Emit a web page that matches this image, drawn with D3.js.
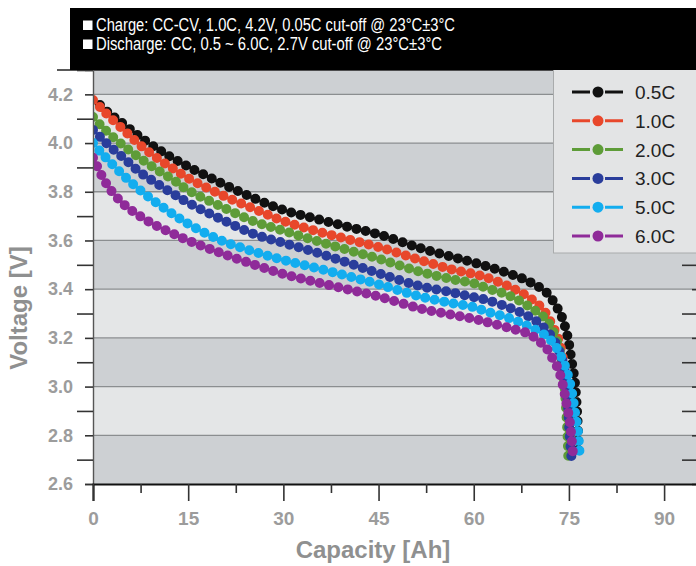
<!DOCTYPE html>
<meta charset="utf-8">
<style>
  body { margin: 0; background: #fff; }
  svg { display: block; }
  .tick text { font-family: "Liberation Sans", Arial, sans-serif; font-weight: bold; fill: #9c9c9c; }
  .axis-title { font-family: "Liberation Sans", Arial, sans-serif; font-weight: bold; fill: #8f9090; }
  .head { font-family: "Liberation Sans Narrow", "Liberation Sans", Arial, sans-serif; fill: #fff; font-size: 17.5px; }
  .legend-label { font-family: "Liberation Sans", Arial, sans-serif; font-size: 19px; fill: #222; }
</style>
<body>
<div id="chart"></div>
<script src="https://cdn.jsdelivr.net/npm/d3@7"></script>
<script>
// discharge curves, [capacity Ah, voltage V]
const rate05 = [[1.1,4.156],[2.7,4.118],[4.3,4.088],[7.4,4.025],[10.8,3.965],[12.6,3.937],[15,3.903],[19.2,3.848],[25.5,3.772],[30,3.725],[35,3.69],[40,3.657],[45,3.625],[51.5,3.569],[56.7,3.532],[60,3.509],[63,3.486],[66,3.46],[68.8,3.43],[71.5,3.385],[73,3.33],[73.9,3.285],[74.8,3.204],[75.4,3.109],[75.9,3.027],[76.2,2.933],[76.4,2.834],[76.5,2.715]];
const rate10 = [[0,4.177],[1.4,4.14],[2.7,4.105],[5,4.05],[7.4,3.992],[10,3.94],[12.6,3.895],[15,3.856],[20,3.79],[25.5,3.728],[30,3.68],[35,3.64],[40,3.606],[45,3.573],[51.5,3.52],[56.7,3.48],[60,3.462],[62,3.448],[65.7,3.409],[68.8,3.364],[70.9,3.318],[72.4,3.25],[73.4,3.19],[74,3.122],[74.6,3.027],[74.9,2.933],[75.1,2.834],[75.4,2.71]];
const rate20 = [[0,4.107],[1.3,4.07],[2.7,4.035],[5,3.985],[7.4,3.938],[10,3.892],[12.6,3.85],[15,3.806],[20,3.742],[25.5,3.677],[30,3.64],[35,3.6],[40,3.562],[45,3.525],[51.5,3.472],[56.7,3.44],[60,3.424],[62,3.405],[65.7,3.372],[68.8,3.327],[71.4,3.275],[72.8,3.21],[73.8,3.12],[74.3,3.0],[74.6,2.89],[74.8,2.79],[74.9,2.71]];
const rate30 = [[0,4.054],[1.3,4.02],[2.7,3.985],[5,3.935],[7.4,3.88],[10,3.835],[12.6,3.792],[15,3.755],[20,3.69],[25.5,3.625],[30,3.59],[35,3.552],[40,3.51],[45,3.465],[51.5,3.413],[56.7,3.386],[60,3.367],[62,3.356],[65.7,3.323],[68.8,3.286],[70.9,3.246],[72.8,3.184],[74.1,3.096],[74.6,3.0],[74.9,2.904],[75.1,2.808],[75.4,2.71]];
const rate50 = [[0,4.0],[1.3,3.96],[2.7,3.922],[5,3.862],[7.4,3.807],[10,3.755],[12.6,3.708],[15,3.668],[20,3.602],[25.5,3.553],[30,3.52],[35,3.488],[40,3.455],[45,3.42],[51.5,3.37],[56.7,3.342],[60,3.326],[62,3.308],[65.7,3.28],[68.8,3.245],[71.4,3.208],[72.5,3.18],[73.5,3.137],[74.6,3.068],[75.4,2.986],[75.9,2.904],[76.4,2.822],[76.7,2.715]];
const rate60 = [[0,3.94],[1.3,3.87],[2.7,3.81],[5,3.745],[7.4,3.70],[10,3.66],[12.6,3.628],[15,3.60],[20,3.55],[25.5,3.50],[30,3.462],[35,3.43],[40,3.40],[45,3.37],[51.5,3.321],[56.7,3.294],[60,3.278],[62,3.265],[65.7,3.24],[68.8,3.215],[70.4,3.184],[71.4,3.16],[72.2,3.125],[73.3,3.072],[74.1,3.0],[74.6,2.931],[75.1,2.863],[75.4,2.794],[75.7,2.705]];

const seriesNames = ['0.5C', '1.0C', '2.0C', '3.0C', '5.0C', '6.0C'];
const seriesColors = ['#111111', '#e8472b', '#5e9c38', '#2a3d9b', '#13adef', '#8f2b99'];
const seriesData = [rate05, rate10, rate20, rate30, rate50, rate60];

const voltTicks = [2.6, 2.8, 3.0, 3.2, 3.4, 3.6, 3.8, 4.0, 4.2];
const voltMinor = [2.7, 2.9, 3.1, 3.3, 3.5, 3.7, 3.9, 4.1, 4.3];
const capTicks = [0, 15, 30, 45, 60, 75, 90];
const capMinor = [7.5, 22.5, 37.5, 52.5, 67.5, 82.5];

const headLines = [
  'Charge: CC-CV, 1.0C, 4.2V, 0.05C cut-off @ 23°C±3°C',
  'Discharge: CC, 0.5 ~ 6.0C, 2.7V cut-off @ 23°C±3°C'
];

const width = 696, height = 566;
const plot = {left: 93, right: 699, top: 70, bottom: 484};

const x = d3.scaleLinear().domain([0, 95.5]).range([plot.left, plot.right]);
const y = d3.scaleLinear().domain([2.6, 4.3]).range([plot.bottom, plot.top]);

const svg = d3.select('#chart').append('svg')
  .attr('width', width)
  .attr('height', height)
  .style('background', '#fff');

svg.append('clipPath').attr('id', 'clip')
  .append('rect')
  .attr('x', plot.left).attr('y', plot.top)
  .attr('width', plot.right - plot.left).attr('height', plot.bottom - plot.top);

// alternating bands
svg.append('g').selectAll('rect')
  .data(voltTicks)
  .join('rect')
    .attr('x', plot.left)
    .attr('width', plot.right - plot.left)
    .attr('y', d => y(Math.min(d + 0.2, 4.3)))
    .attr('height', d => y(d) - y(Math.min(d + 0.2, 4.3)))
    .attr('fill', (d, i) => i % 2 === 0 ? '#cdd0d3' : '#e4e6e7');

// grid lines
svg.append('g').selectAll('line')
  .data(voltTicks.slice(1))
  .join('line')
    .attr('x1', plot.left).attr('x2', plot.right)
    .attr('y1', d => y(d)).attr('y2', d => y(d))
    .attr('stroke', '#8b8e90')
    .attr('stroke-width', 1.3);

// frame line at top
svg.append('line')
  .attr('x1', 57).attr('x2', plot.right)
  .attr('y1', plot.top).attr('y2', plot.top)
  .attr('stroke', '#222').attr('stroke-width', 1.5);

// curves: each line drawn as a chain of round dots
const line = d3.line()
  .x(d => x(d[0]))
  .y(d => y(d[1]))
  .curve(d3.curveCatmullRom.alpha(0.5));

svg.append('g')
  .attr('clip-path', 'url(#clip)')
  .selectAll('path')
  .data(seriesData)
  .join('path')
    .attr('d', d => line(d))
    .attr('fill', 'none')
    .attr('stroke', (d, i) => seriesColors[i])
    .attr('stroke-width', 10)
    .attr('stroke-linecap', 'round')
    .attr('stroke-dasharray', '0 9.6');

// axes
const yAxis = svg.append('g')
  .attr('transform', `translate(${plot.left},0)`)
  .call(d3.axisLeft(y).tickValues(voltTicks).tickSize(8).tickPadding(12).tickFormat(d3.format('.1f')));
yAxis.selectAll('text').style('font-size', '18px');

svg.append('g')
  .attr('transform', `translate(${plot.left},0)`)
  .call(d3.axisLeft(y).tickValues(voltMinor).tickSize(16).tickFormat(''))
  .select('.domain').remove();

svg.append('g')
  .attr('transform', `translate(${plot.right},0)`)
  .call(d3.axisRight(y).tickValues(voltTicks).tickSize(-7).tickFormat(''))
  .select('.domain').remove();
svg.append('g')
  .attr('transform', `translate(${plot.right},0)`)
  .call(d3.axisRight(y).tickValues(voltMinor).tickSize(-17).tickFormat(''))
  .select('.domain').remove();

const xAxis = svg.append('g')
  .attr('transform', `translate(0,${plot.bottom})`)
  .call(d3.axisBottom(x).tickValues(capTicks).tickSize(17).tickPadding(11));
xAxis.selectAll('text').style('font-size', '19px');

svg.append('g')
  .attr('transform', `translate(0,${plot.bottom})`)
  .call(d3.axisBottom(x).tickValues(capMinor).tickSize(9).tickFormat(''))
  .select('.domain').remove();

svg.selectAll('.tick line').attr('stroke', '#333').attr('stroke-width', 1.6);
yAxis.select('.domain').attr('stroke', '#555').attr('stroke-width', 1.4);
xAxis.select('.domain').attr('stroke', '#111').attr('stroke-width', 2);

// axis titles
svg.append('text')
  .attr('class', 'axis-title')
  .attr('x', 373).attr('y', 558)
  .attr('text-anchor', 'middle')
  .style('font-size', '24px')
  .text('Capacity [Ah]');

svg.append('text')
  .attr('class', 'axis-title')
  .attr('transform', 'translate(27,308) rotate(-90)')
  .attr('text-anchor', 'middle')
  .style('font-size', '24px')
  .text('Voltage [V]');

// legend
const legend = svg.append('g');
legend.append('rect')
  .attr('x', 553.5).attr('y', 66)
  .attr('width', 160).attr('height', 187)
  .attr('fill', '#e3e4e5')
  .attr('stroke', '#a9abac');

const rows = legend.selectAll('g.row')
  .data(seriesNames)
  .join('g')
    .attr('class', 'row')
    .attr('transform', (d, i) => `translate(0,${92 + i * 28.8})`);

rows.append('line')
  .attr('x1', 572).attr('x2', 623)
  .attr('stroke', (d, i) => seriesColors[i])
  .attr('stroke-width', 3)
  .attr('stroke-dasharray', '18 15 18');
rows.append('circle')
  .attr('cx', 598).attr('r', 5.5)
  .attr('fill', (d, i) => seriesColors[i]);
rows.append('text')
  .attr('class', 'legend-label')
  .attr('x', 635).attr('y', 7)
  .text(d => d);

// header box
const head = svg.append('g');
head.append('rect')
  .attr('x', 70).attr('y', 8)
  .attr('width', 640).attr('height', 62)
  .attr('fill', '#000');

head.selectAll('rect.sq')
  .data(headLines)
  .join('rect')
    .attr('class', 'sq')
    .attr('x', 83).attr('y', (d, i) => 20.5 + i * 19)
    .attr('width', 9.5).attr('height', 9.5)
    .attr('fill', '#fff');

head.selectAll('text')
  .data(headLines)
  .join('text')
    .attr('class', 'head')
    .attr('x', 96)
    .attr('y', (d, i) => 30.5 + i * 19)
    .attr('textLength', (d, i) => i === 0 ? 359 : 346)
    .attr('lengthAdjust', 'spacingAndGlyphs')
    .text(d => d);
</script>
</body>
</html>
